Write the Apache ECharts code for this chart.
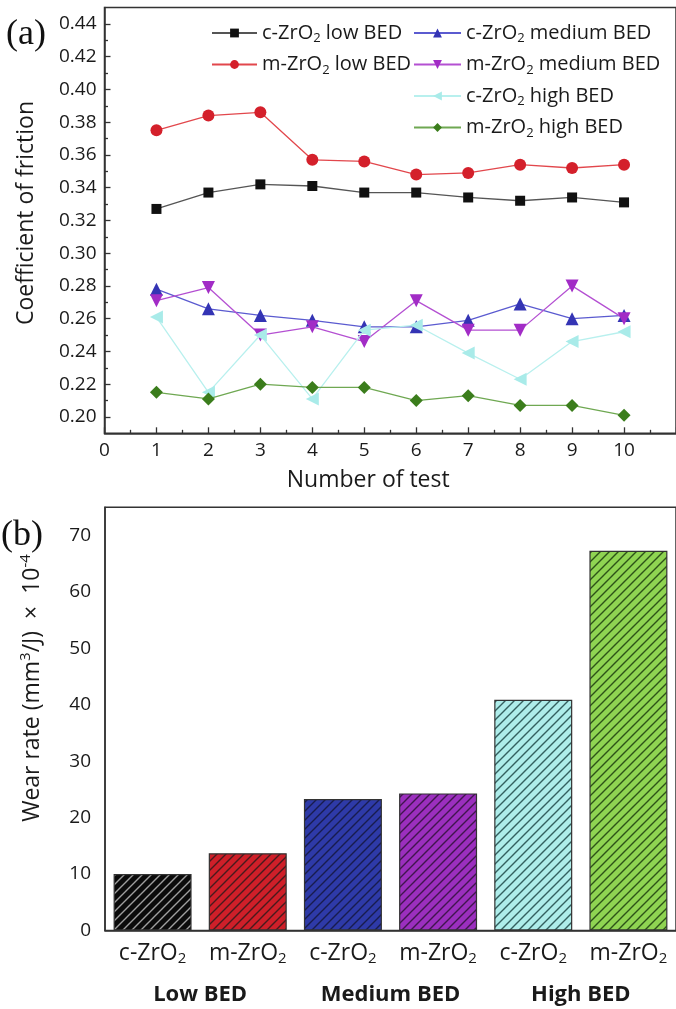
<!DOCTYPE html>
<html><head><meta charset="utf-8">
<script src="https://cdn.jsdelivr.net/npm/echarts@6/dist/echarts.min.js"></script>
<style>html,body{margin:0;padding:0;background:#fff}#c{width:676px;height:1009px}</style>
</head><body><div id="c"></div>
<script>
// ---- (a) Coefficient of friction ----
const testNumbers = [1, 2, 3, 4, 5, 6, 7, 8, 9, 10];
const cLowBED  = [0.327, 0.337, 0.342, 0.341, 0.337, 0.337, 0.334, 0.332, 0.334, 0.331];
const mLowBED  = [0.375, 0.384, 0.386, 0.357, 0.356, 0.348, 0.349, 0.354, 0.352, 0.354];
const cMedBED  = [0.278, 0.266, 0.262, 0.259, 0.255, 0.255, 0.259, 0.269, 0.260, 0.262];
const mMedBED  = [0.271, 0.279, 0.250, 0.255, 0.246, 0.271, 0.253, 0.253, 0.280, 0.260];
const cHighBED = [0.261, 0.215, 0.250, 0.211, 0.253, 0.256, 0.239, 0.223, 0.246, 0.252];
const mHighBED = [0.215, 0.211, 0.220, 0.218, 0.218, 0.210, 0.213, 0.207, 0.207, 0.201];
const frictionMajorTicks = [0.20, 0.22, 0.24, 0.26, 0.28, 0.30, 0.32, 0.34, 0.36, 0.38, 0.40, 0.42, 0.44];
const frictionMinorTicks = [0.21, 0.23, 0.25, 0.27, 0.29, 0.31, 0.33, 0.35, 0.37, 0.39, 0.41, 0.43];
const seriesNames = ['c-ZrO2 low BED', 'm-ZrO2 low BED', 'c-ZrO2 medium BED', 'm-ZrO2 medium BED', 'c-ZrO2 high BED', 'm-ZrO2 high BED'];

// ---- (b) Wear rate ----
const barCategories = ['c-ZrO2', 'm-ZrO2', 'c-ZrO2', 'm-ZrO2', 'c-ZrO2', 'm-ZrO2'];
const barGroups = ['Low BED', 'Medium BED', 'High BED'];
const wearRate = [10.0, 13.7, 23.3, 24.3, 40.9, 67.3];
const wearMajorTicks = [0, 10, 20, 30, 40, 50, 60, 70];
const wearMinorTicks = [5, 15, 25, 35, 45, 55, 65];

const FONT = 'Open Sans';
const labelColor = '#1a1a1a';
const axisColor = '#333';
const subFmt = t => t.replace('ZrO2', 'ZrO{s|2}');
const legendRich = { s: { fontSize: 13, fontFamily: FONT, padding: [11, 0, 0, 0], color: labelColor } };

const lineStyles = [
  { color: '#111111', line: '#555555', symbol: 'rect', size: 10, rotate: 0 },
  { color: '#d4202b', line: '#e2474c', symbol: 'circle', size: 12, rotate: 0 },
  { color: '#3434b4', line: '#5b5bd0', symbol: 'triangle', size: 13, rotate: 0 },
  { color: '#a22cc6', line: '#b450d2', symbol: 'triangle', size: 13, rotate: 180 },
  { color: '#a9ebe9', line: '#b8f0ee', symbol: 'triangle', size: 13, rotate: 90 },
  { color: '#3b7d1c', line: '#6fa852', symbol: 'diamond', size: 13, rotate: 0 }
];
const lineData = [cLowBED, mLowBED, cMedBED, mMedBED, cHighBED, mHighBED];

const barColors = ['#0b0b0b', '#cf1f29', '#2e3aa8', '#9b2fbe', '#aeedea', '#8fd452'];
const hatchColors = ['rgba(175,175,175,0.9)', 'rgba(25,25,25,0.75)', 'rgba(15,15,40,0.7)', 'rgba(25,10,30,0.7)', 'rgba(20,60,60,0.8)', 'rgba(20,50,10,0.8)'];

// "/" hatch tile (bottom-left to top-right)
function hatchTile(bg, fg) {
  const s = 9;
  const c = document.createElement('canvas');
  c.width = s; c.height = s;
  const g = c.getContext('2d');
  g.fillStyle = bg; g.fillRect(0, 0, s, s);
  g.strokeStyle = fg; g.lineWidth = 1.4;
  g.beginPath();
  g.moveTo(-1, s + 1); g.lineTo(s + 1, -1);
  g.moveTo(-2, 2); g.lineTo(2, -2);
  g.moveTo(s - 2, s + 2); g.lineTo(s + 2, s - 2);
  g.stroke();
  return { image: c, repeat: 'repeat' };
}

const legendBase = {
  orient: 'vertical', top: 23, itemWidth: 45, itemHeight: 11, itemGap: 9.5, padding: 0,
  formatter: subFmt,
  textStyle: { fontSize: 20, fontFamily: FONT, color: labelColor, rich: legendRich }
};

const option = {
  animation: false,
  backgroundColor: '#ffffff',
  grid: [
    { left: 104.5, top: 7.5, right: -9, bottom: 575.7, show: true, borderColor: axisColor, borderWidth: 1.5 },
    { left: 105, top: 507.3, right: -4, bottom: 78.5, show: true, borderColor: axisColor, borderWidth: 1.5 }
  ],
  xAxis: [
    {
      gridIndex: 0, type: 'value', min: 0, max: 11, interval: 1,
      axisLine: { lineStyle: { color: axisColor, width: 1.5 } },
      axisTick: { inside: true, length: 6, lineStyle: { color: axisColor, width: 1.3 } },
      minorTick: { show: true, splitNumber: 2, length: 3.5, lineStyle: { color: axisColor, width: 1.3 } },
      splitLine: { show: false },
      axisLabel: { fontSize: 19, fontFamily: FONT, color: labelColor, margin: 8, showMaxLabel: false },
      name: 'Number of test', nameLocation: 'middle', nameGap: 36,
      nameTextStyle: { fontSize: 23, fontFamily: FONT, color: labelColor, padding: [0, 44, 0, 0] }
    },
    {
      gridIndex: 1, type: 'category', data: barCategories, boundaryGap: true,
      axisLine: { lineStyle: { color: axisColor, width: 1.5 } },
      axisTick: { inside: true, length: 5, lineStyle: { color: axisColor, width: 1.3 } },
      axisLabel: {
        fontSize: 23, fontFamily: FONT, color: labelColor, margin: 9, interval: 0,
        formatter: v => subFmt(v), rich: { s: { fontSize: 15, fontFamily: FONT, padding: [12, 0, 0, 0], color: labelColor } }
      }
    },
    {
      gridIndex: 1, type: 'category', data: barGroups, position: 'bottom', offset: 47,
      axisLine: { show: false }, axisTick: { show: false },
      axisLabel: { fontSize: 22, fontWeight: 'bold', fontFamily: FONT, color: labelColor, margin: 6, interval: 0 }
    }
  ],
  yAxis: [
    {
      gridIndex: 0, type: 'value', min: 0.19, max: 0.45, position: 'left',
      axisLine: { show: true, lineStyle: { color: axisColor, width: 1.5 } },
      axisTick: { inside: true, length: 6, customValues: frictionMajorTicks, lineStyle: { color: axisColor, width: 1.3 } },
      axisLabel: { fontSize: 19, fontFamily: FONT, color: labelColor, margin: 8, customValues: frictionMajorTicks, formatter: v => v.toFixed(2) },
      splitLine: { show: false }
    },
    {
      gridIndex: 0, type: 'value', min: 0.19, max: 0.45, position: 'left',
      axisLine: { show: false },
      axisTick: { inside: true, length: 3.5, customValues: frictionMinorTicks, lineStyle: { color: axisColor, width: 1.3 } },
      axisLabel: { show: false },
      splitLine: { show: false }
    },
    {
      gridIndex: 1, type: 'value', min: 0, max: 75, position: 'left',
      axisLine: { show: true, lineStyle: { color: axisColor, width: 1.5 } },
      axisTick: { inside: true, length: 6, customValues: wearMajorTicks, lineStyle: { color: axisColor, width: 1.3 } },
      axisLabel: { fontSize: 19, fontFamily: FONT, color: labelColor, margin: 14, customValues: wearMajorTicks },
      splitLine: { show: false }
    },
    {
      gridIndex: 1, type: 'value', min: 0, max: 75, position: 'left',
      axisLine: { show: false },
      axisTick: { inside: true, length: 3.5, customValues: wearMinorTicks, lineStyle: { color: axisColor, width: 1.3 } },
      axisLabel: { show: false },
      splitLine: { show: false }
    }
  ],
  legend: [
    Object.assign({}, legendBase, { data: seriesNames.slice(0, 2), left: 211 }),
    Object.assign({}, legendBase, { data: seriesNames.slice(2), left: 413, itemWidth: 47 })
  ],
  graphic: [
    { type: 'text', left: 6, top: 17, style: { text: '(a)', font: '36px "Liberation Serif"', fill: '#111' } },
    { type: 'text', left: 1, top: 518, style: { text: '(b)', font: '36px "Liberation Serif"', fill: '#111' } },
    { type: 'text', x: 26, y: 213, rotation: Math.PI / 2,
      style: { text: 'Coefficient of friction', font: '23px "Open Sans"', fill: labelColor, align: 'center', verticalAlign: 'middle' } },
    { type: 'text', x: 32, y: 688, rotation: Math.PI / 2,
      style: { text: 'Wear rate (mm{sup|3}/J)  ×  10{sup|-4}', font: '23px "Open Sans"', fill: labelColor, align: 'center', verticalAlign: 'middle',
        rich: { sup: { fontSize: 15, fontFamily: FONT, fill: labelColor, padding: [0, 0, 13, 0] } } } }
  ],
  series: [
    ...lineData.map((d, i) => ({
      name: seriesNames[i], type: 'line', xAxisIndex: 0, yAxisIndex: 0,
      data: testNumbers.map((t, k) => [t, d[k]]),
      symbol: lineStyles[i].symbol, symbolSize: lineStyles[i].size, symbolRotate: lineStyles[i].rotate,
      itemStyle: { color: lineStyles[i].color },
      lineStyle: { color: lineStyles[i].line, width: 1.3 },
      z: 3 + i
    })),
    {
      name: 'Wear rate', type: 'bar', xAxisIndex: 1, yAxisIndex: 2, barWidth: 78,
      data: wearRate.map((v, i) => ({
        value: v,
        itemStyle: { color: hatchTile(barColors[i], hatchColors[i]), borderColor: '#333', borderWidth: 1.2 }
      }))
    }
  ]
};

const chart = echarts.init(document.getElementById('c'), null, { renderer: 'canvas' });
chart.setOption(option);
</script>
</body></html>
